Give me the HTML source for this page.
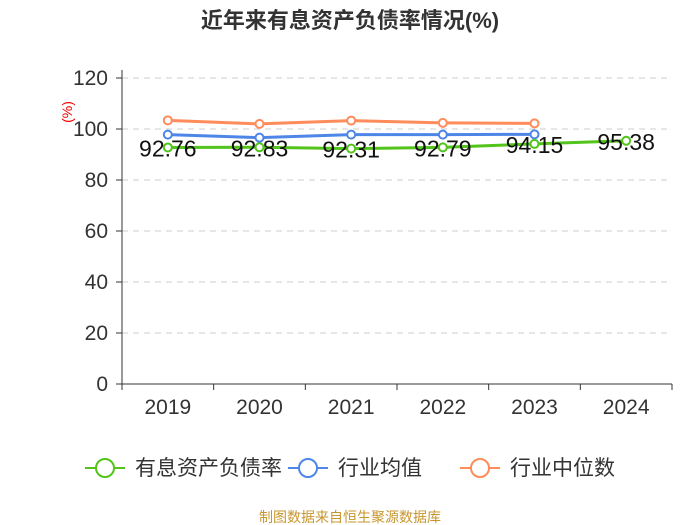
<!DOCTYPE html>
<html><head><meta charset="utf-8"><style>
body{margin:0;background:#fff;}
svg{display:block;font-family:"Liberation Sans","Noto Sans CJK SC",sans-serif;}
</style></head><body>
<svg id="chart" width="700" height="525" xmlns="http://www.w3.org/2000/svg">
<rect width="700" height="525" fill="#fff"/>
<text x="350" y="28" text-anchor="middle" font-size="22" font-weight="bold" fill="#333">近年来有息资产负债率情况(%)</text>
<text x="72" y="112" font-size="14" fill="#e00" transform="rotate(-90 72 112)" text-anchor="middle">(%)</text>
<g id="grid"></g><g id="axes"></g><g id="series"></g>
<g font-size="21" fill="#333">
<g><line x1="85" y1="468" x2="125" y2="468" stroke="#52c41a" stroke-width="2"/><circle cx="105" cy="468" r="9" fill="#fff" stroke="#52c41a" stroke-width="2"/><text x="135" y="475">有息资产负债率</text></g>
<g><line x1="288" y1="468" x2="328" y2="468" stroke="#4e86e8" stroke-width="2"/><circle cx="308" cy="468" r="9" fill="#fff" stroke="#4e86e8" stroke-width="2"/><text x="338" y="475">行业均值</text></g>
<g><line x1="460" y1="468" x2="500" y2="468" stroke="#ff8c5a" stroke-width="2"/><circle cx="480" cy="468" r="9" fill="#fff" stroke="#ff8c5a" stroke-width="2"/><text x="510" y="475">行业中位数</text></g>
</g>
<text x="350" y="522" text-anchor="middle" font-size="14" fill="#c8962e">制图数据来自恒生聚源数据库</text>
</svg>
<script>
const categories=["2019","2020","2021","2022","2023","2024"];
const debtRatio=[92.76,92.83,92.31,92.79,94.15,95.38];
const industryMean=[97.8,96.6,97.8,97.8,97.9];
const industryMedian=[103.4,102.0,103.3,102.4,102.2];
const yTicks=[0,20,40,60,80,100,120];
const NS="http://www.w3.org/2000/svg";
const x0=122,x1=672,yBase=384,yTop=78,yMax=120;
const band=(x1-x0)/categories.length;
const xs=i=>x0+band*(i+0.5);
const ys=v=>yBase-(v/yMax)*(yBase-yTop);
function mk(tag,attrs,parent){const e=document.createElementNS(NS,tag);for(const k in attrs)e.setAttribute(k,attrs[k]);parent.appendChild(e);return e;}
const grid=document.getElementById('grid'),axes=document.getElementById('axes'),series=document.getElementById('series');
yTicks.forEach(t=>{
  if(t>0){const g=mk('line',{x1:x0,x2:x1,y1:ys(t),y2:ys(t),stroke:'#ccc','stroke-dasharray':'6 5'},grid);
  
  }
  const tk=mk('line',{x1:x0-6,x2:x0,y1:ys(t),y2:ys(t),stroke:'#333'},axes);
  
  
  const lb=mk('text',{x:x0-14,y:ys(t)+7,'text-anchor':'end','font-size':'21',fill:'#333'},axes);
  lb.textContent=t;
  
  
});
const ya=mk('line',{x1:x0,x2:x0,y1:yTop-8,y2:yBase,stroke:'#333'},axes);


const xa=mk('line',{x1:x0,x2:x1,y1:yBase,y2:yBase,stroke:'#333'},axes);


for(let i=0;i<=categories.length;i++){
  const t=mk('line',{x1:x0+band*i,x2:x0+band*i,y1:yBase,y2:yBase+6,stroke:'#333'},axes);
  
  
}
categories.forEach((c,i)=>{
  const l=mk('text',{x:xs(i),y:414,'text-anchor':'middle','font-size':'21',fill:'#333'},axes);
  l.textContent=c;
  
  
});
function drawSeries(vals,color,name,labels){
  const p=mk('polyline',{points:vals.map((v,i)=>xs(i)+','+ys(v)).join(' '),fill:'none',stroke:color,'stroke-width':'3'},series);
  
  
  vals.forEach((v,i)=>{
    const c=mk('circle',{cx:xs(i),cy:ys(v),r:4,fill:'#fff',stroke:color,'stroke-width':'2'},series);
    
    
  });
  if(labels){vals.forEach((v,i)=>{
    const t=mk('text',{x:xs(i),y:ys(v)+9,'text-anchor':'middle','font-size':'23',fill:'#111'},series);
    t.textContent=v.toFixed(2);
    
    
  });}
}
drawSeries(industryMedian,'#ff8c5a','industry-median',false);
drawSeries(industryMean,'#4e86e8','industry-mean',false);
drawSeries(debtRatio,'#52c41a','debt-ratio',true);
</script>
</body></html>
